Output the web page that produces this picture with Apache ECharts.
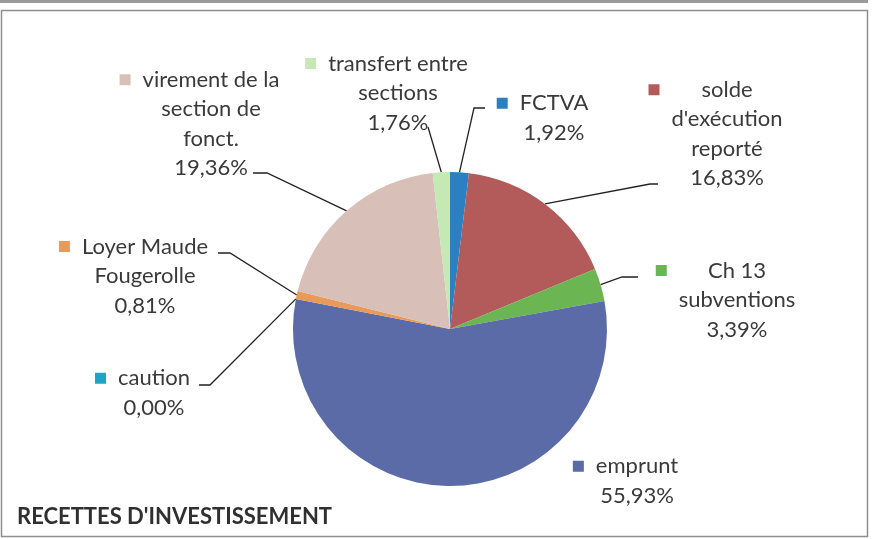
<!DOCTYPE html>
<html>
<head>
<meta charset="utf-8">
<title>Recettes d'investissement</title>
<script src="https://cdn.jsdelivr.net/npm/echarts@6/dist/echarts.min.js"></script>
<style>
  html, body { margin: 0; padding: 0; background: #fff; }
  #chart { width: 882px; height: 539px; }
</style>
</head>
<body>
<div id="chart"></div>
<script>
  // postes de recettes, dans l'ordre des parts (sens horaire depuis midi)
  var categories = ['FCTVA', "solde\nd'exécution\nreporté", 'Ch 13\nsubventions', 'emprunt', 'caution',
                    'Loyer Maude\nFougerolle', 'virement de la\nsection de\nfonct.', 'transfert entre\nsections'];
  var values = [1.92, 16.83, 3.39, 55.93, 0.00, 0.81, 19.36, 1.76];
  var colors = ['#2c7fc1', '#b35a5b', '#6bb552', '#5a6ba8', '#20a4c6', '#e99a58', '#d8c0b9', '#c4e9b4'];

  // centre de chaque bloc d'étiquette (px)
  var labelPos = [[554, 118], [727, 134], [737, 300], [637, 481], [154, 393], [145, 276], [211, 124], [398, 93]];
  // point d'accroche du trait de rappel côté étiquette : x, y, longueur du palier horizontal
  var lineAnchor = [[485, 108, 11], [658, 184, 8], [638, 277, 16], null, [199, 385, 11], [218, 253, 12], [253, 173, 14], [428, 127, 0]];

  var chart = echarts.init(document.getElementById('chart'));

  function makeRich(color) {
    return {
      sq: { width: 11, height: 11, backgroundColor: color, align: 'left' },
      gap: { width: 12, align: 'left' },
      pl: { width: 23, align: 'left' },
      pr: { width: 23, align: 'right' },
      t: { fontFamily: 'Lato', fontSize: 22, lineHeight: 29.5, color: '#3a3a3a', align: 'center' }
    };
  }

  var data = categories.map(function (name, i) {
    return {
      name: name,
      value: values[i],
      itemStyle: { color: colors[i] },
      label: { rich: makeRich(colors[i]) },
      labelLine: { show: lineAnchor[i] !== null }
    };
  });

  var option = {
    animation: false,
    title: {
      text: "RECETTES D'INVESTISSEMENT",
      left: 12,
      top: 501,
      textStyle: { fontFamily: 'Lato', fontWeight: 'bold', fontSize: 22, color: '#303030' }
    },
    graphic: [
      { type: 'rect', silent: true, shape: { x: 0, y: 0, width: 868, height: 3 }, style: { fill: '#9a9a9a' } },
      { type: 'rect', silent: true, shape: { x: 1.5, y: 10.5, width: 866, height: 526 },
        style: { fill: 'none', stroke: '#8e8e8e', lineWidth: 1.5 } }
    ],
    series: [{
      type: 'pie',
      center: [450, 329],
      radius: 157,
      startAngle: 90,
      clockwise: true,
      avoidLabelOverlap: false,
      silent: true,
      itemStyle: { borderWidth: 0 },
      label: {
        show: true,
        position: 'outside',
        formatter: function (p) {
          var lines = p.name.split('\n');
          lines.push(p.value.toFixed(2).replace('.', ',') + '%');
          return lines.map(function (l, i) {
            return (i === 0 ? '{sq| }{gap| }' : '{pl| }') + '{t|' + l + '}{pr| }';
          }).join('\n');
        }
      },
      labelLine: { show: true, length: 10, length2: 10, lineStyle: { color: '#222', width: 1.3 } },
      labelLayout: function (p) {
        var pos = labelPos[p.dataIndex];
        var res = { x: pos[0], y: pos[1], align: 'center', verticalAlign: 'middle' };
        var a = lineAnchor[p.dataIndex];
        if (a && p.labelLinePoints) {
          // départ sur le bord de la part (calculé par ECharts), palier horizontal côté étiquette
          var edge = p.labelLinePoints[0];
          var dir = edge[0] > a[0] ? 1 : -1;
          res.labelLinePoints = [edge, [a[0] + dir * a[2], a[1]], [a[0], a[1]]];
        }
        return res;
      },
      data: data
    }]
  };

  chart.setOption(option);
  window.addEventListener('resize', chart.resize);
</script>
</body>
</html>
